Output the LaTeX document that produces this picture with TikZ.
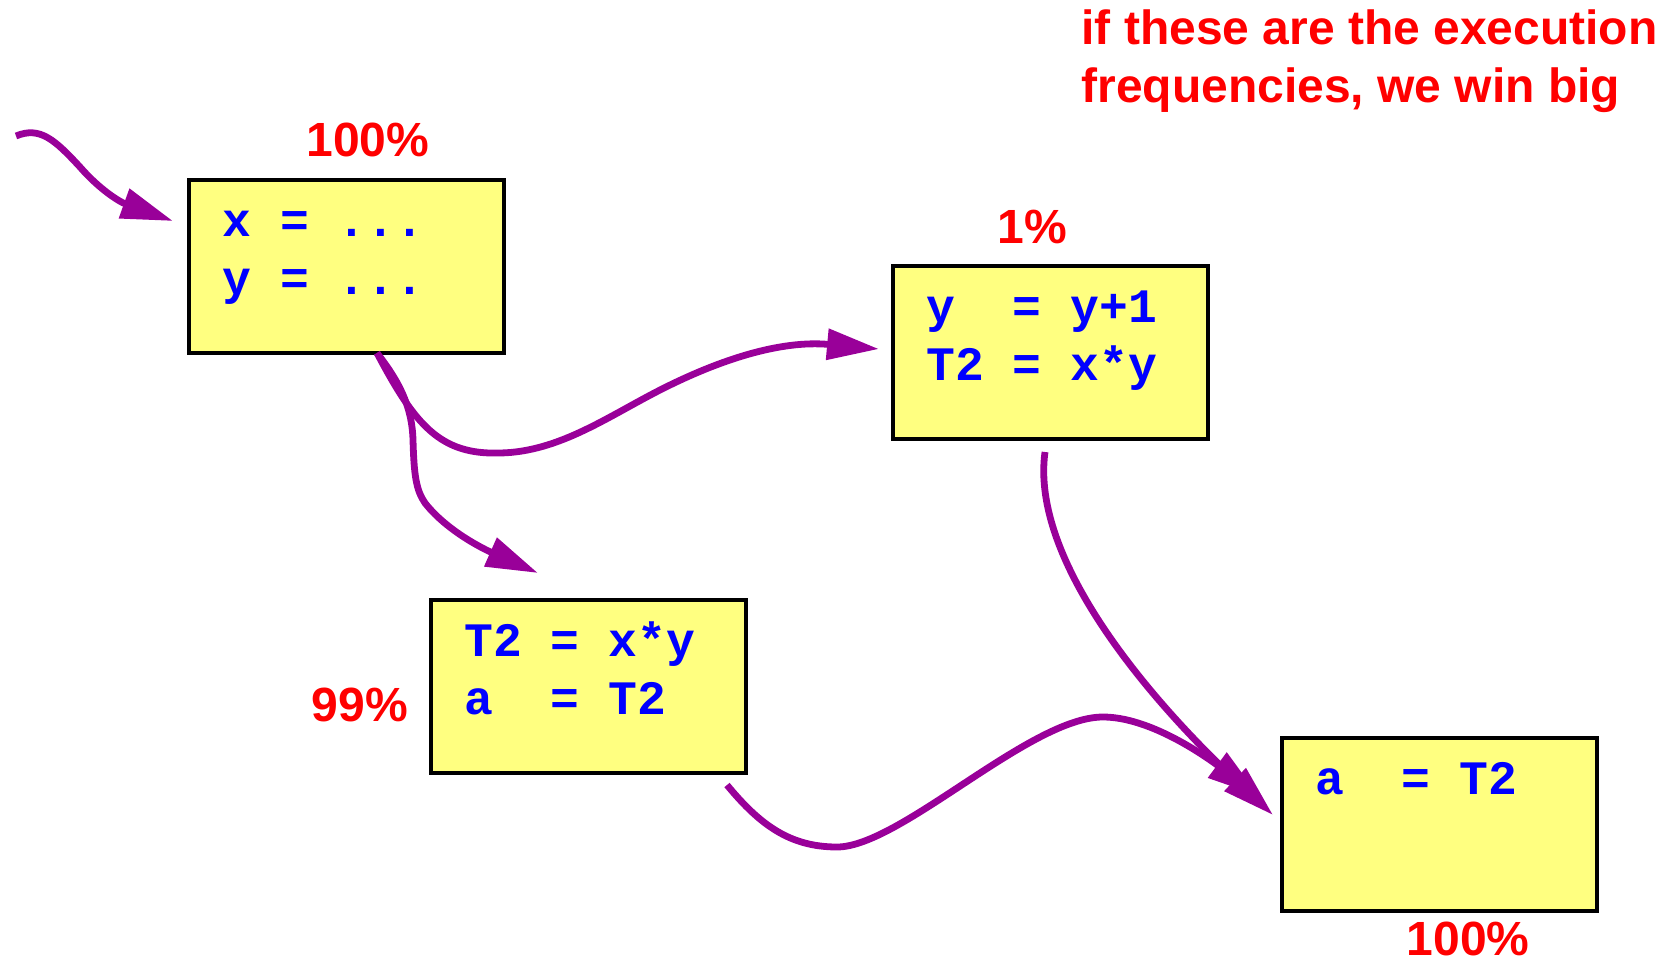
\documentclass[tikz,border=0pt]{standalone}
\usepackage{fontspec}
\setmainfont{Liberation Sans}
\setmonofont{Liberation Mono}
\usetikzlibrary{arrows.meta}
\definecolor{boxfill}{RGB}{255,255,128}
\definecolor{arrowpurple}{RGB}{153,0,153}
\definecolor{codeblue}{RGB}{0,0,255}
\definecolor{freqred}{RGB}{255,0,0}
\begin{document}
\begin{tikzpicture}[x=0.5pt,y=-0.5pt,
  codebox/.style={draw=black, line width=1.9pt, fill=boxfill, minimum width=157.5pt, minimum height=86.5pt, inner sep=0pt, anchor=north west},
  code/.style={font=\ttfamily\bfseries\fontsize{24}{29}\selectfont, text=codeblue, anchor=base west, inner sep=0pt},
  freq/.style={font=\bfseries\fontsize{24}{29}\selectfont, text=freqred, anchor=base, inner sep=0pt},
  flow/.style={draw=arrowpurple, line width=3.4pt, -{Triangle[length=26pt,width=15pt]}},
]
\useasboundingbox (0,0) rectangle (1665,963);

% boxes
\node[codebox] (b1) at (187,178) {};
\node[codebox] (b2) at (891,264) {};
\node[codebox] (b3) at (429,598) {};
\node[codebox] (b4) at (1280,736) {};

% code lines
\node[code] (b1a) at ([shift={(35,58)}]b1.north west) {x = ...};
\node[code] (b1b) at ([shift={(35,116)}]b1.north west) {y = ...};
\node[code] (b2a) at ([shift={(35,58)}]b2.north west) {y~~=~y+1};
\node[code] (b2b) at ([shift={(35,116)}]b2.north west) {T2~=~x*y};
\node[code] (b3a) at ([shift={(35,58)}]b3.north west) {T2~=~x*y};
\node[code] (b3b) at ([shift={(35,116)}]b3.north west) {a~~=~T2};
\node[code] (b4a) at ([shift={(35,58)}]b4.north west) {a~~=~T2};

% frequencies
\node[freq] (f1) at (368,156) {100\%};
\node[freq] (f2) at (1032,243) {1\%};
\node[freq] (f3) at (360,721) {99\%};
\node[freq] (f4) at (1468,955) {100\%};

% note
\node[freq, anchor=base west] (note1) at (1081,45) {if these are the execution};
\node[freq, anchor=base west] (note2) at (1081,103) {frequencies, we win big};

% connector end points
\coordinate (entry) at (16,136);
\coordinate (b1in) at (173,221);
\coordinate (b1out) at (377,353);
\coordinate (b2in) at (879,349);
\coordinate (b3in) at (538,573);
\coordinate (b2out) at (1045,452);
\coordinate (b4in) at (1273,815);
\coordinate (b3out) at (727,785);
\coordinate (b4inb) at (1259,796);

% connectors
\draw[flow] (entry) .. controls (40,126) and (55,140) .. (80,167)
  .. controls (100,190) and (120,202) .. (b1in);
\draw[flow] (b1out) .. controls (415,425) and (440,455) .. (500,453)
  .. controls (560,452) and (610,415) .. (664,388)
  .. controls (720,360) and (780,340) .. (b2in);
\draw[flow] (b1out) .. controls (398,380) and (412,405) .. (413,440)
  .. controls (414,475) and (416,490) .. (425,503)
  .. controls (450,535) and (495,554) .. (b3in);
\draw[flow] (b2out) .. controls (1030,560) and (1150,700) .. (b4in);
\draw[flow] (b3out) .. controls (760,825) and (790,847) .. (837,847)
  .. controls (900,847) and (1030,717) .. (1103,717)
  .. controls (1150,717) and (1205,756) .. (b4inb);
\end{tikzpicture}
\end{document}
